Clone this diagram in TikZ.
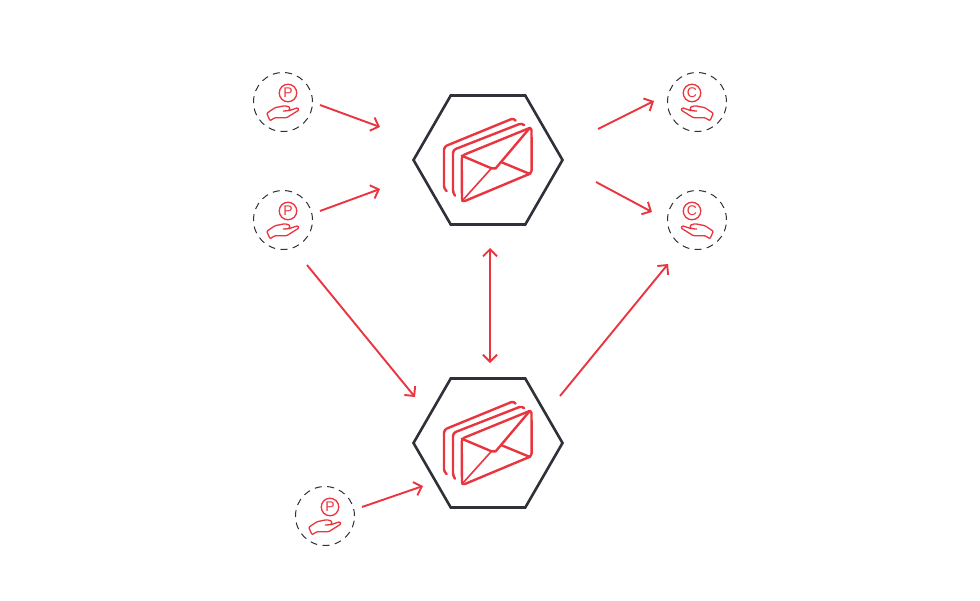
\documentclass[tikz,border=0pt]{standalone}
\usepackage{fontspec}
\setmainfont{Liberation Sans}
\usetikzlibrary{shapes.geometric,arrows.meta}
\definecolor{rd}{HTML}{E9353F}
\definecolor{dk}{HTML}{2E3138}
\tikzset{
  hexnode/.style={regular polygon,regular polygon sides=6,shape border rotate=0,minimum size=149pt,inner sep=0,outer sep=0,draw=dk,line width=2.6pt},
  dashcirc/.style={circle,minimum size=59pt,inner sep=0,outer sep=0,draw=dk,line width=1pt,dash pattern=on 7pt off 5.4pt},
  flow/.style={draw=rd,line width=1.9pt,-{Straight Barb[length=7pt,width=14pt,line width=1.9pt]}},
  flowtwo/.style={draw=rd,line width=1.9pt,{Straight Barb[length=7pt,width=14pt,line width=1.9pt]}-{Straight Barb[length=7pt,width=14pt,line width=1.9pt]}},
  envline/.style={draw=rd,line width=2.4pt,line cap=round,line join=round},
  envthin/.style={draw=rd,line width=1.6pt,line cap=round,line join=round},
  coin/.style={circle,minimum size=17.5pt,inner sep=0,draw=rd,line width=1.3pt,text=rd,font=\fontsize{14}{14}\selectfont},
  handline/.style={draw=rd,line width=1.3pt,line join=round,line cap=round},
  envelope/.pic={
    \draw[envline,rounded corners=3pt] (-41.3,31)--(-44,29)--(-44,-13.3)--(26,-42)--(27.5,-39.5);
    \draw[envline,rounded corners=3pt] (-33,35.7)--(-35,33)--(-35,-10)--(34,-37)--(36,-35);
    \draw[envline,rounded corners=3pt] (-26.3,-4.3)--(43.5,-32.8)--(43.7,13)--(-26,42.2)--cycle;
    \draw[envline] (-26.3,-4.3)--(3.5,8.3)--(7.7,8.3)--(42,-32.3);
    \draw[envthin] (-26,41)--(3.7,8);
    \draw[envline] (13.7,2.3)--(42,14);
  },
  handp/.pic={
    \draw[handline,rounded corners=1pt] (0.3,9)--(6,8.7)--(7,5.3)--(2,3.7)--(-8,5.7)--(-16.3,11.3)--(-13,18.7)--(-8,15.7)--(3.7,15.7)--(16,8)--(14.7,5.7)--(6,8.7);
  },
  handc/.pic={
    \draw[handline,rounded corners=1pt] (-0.3,9)--(-6,8.7)--(-7,5.3)--(-2,3.7)--(8,5.7)--(16.3,11.3)--(13,18.7)--(8,15.7)--(-3.7,15.7)--(-16,8)--(-14.7,5.7)--(-6,8.7);
  }
}
\begin{document}
\begin{tikzpicture}[x=1pt,y=-1pt]
\useasboundingbox (0,0) rectangle (980,600);
\node[hexnode] (hexa) at (488,160) {};
\node[hexnode] (hexb) at (488,443) {};
\pic at (488,160) {envelope};
\pic at (488,443) {envelope};
\node[dashcirc] (pa) at (283,102) {};
\node[dashcirc] (pb) at (283,220) {};
\node[dashcirc] (pc) at (325,516) {};
\node[dashcirc] (ca) at (697,102) {};
\node[dashcirc] (cb) at (697,220) {};
\node[coin] (pacoin) at (288,93) {P};
\node[coin] (pbcoin) at (288,211) {P};
\node[coin] (pccoin) at (330,507) {P};
\node[coin] (cacoin) at (692,93) {C};
\node[coin] (cbcoin) at (692,211) {C};
\pic at (283,102) {handp};
\pic at (283,220) {handp};
\pic at (325,516) {handp};
\pic at (697,102) {handc};
\pic at (697,220) {handc};
\coordinate (a1) at (320,105); \coordinate (a2) at (380,127);
\coordinate (b1) at (320,211); \coordinate (b2) at (380,189);
\coordinate (c1) at (307,265); \coordinate (c2) at (415,397);
\coordinate (d1) at (362,507); \coordinate (d2) at (423,486);
\coordinate (e1) at (490,248); \coordinate (e2) at (490,363);
\coordinate (f1) at (598,129); \coordinate (f2) at (654,101);
\coordinate (g1) at (596,182); \coordinate (g2) at (652,212);
\coordinate (h1) at (560,396); \coordinate (h2) at (668,264);
\draw[flow] (a1)--(a2);
\draw[flow] (b1)--(b2);
\draw[flow] (c1)--(c2);
\draw[flow] (d1)--(d2);
\draw[flowtwo] (e1)--(e2);
\draw[flow] (f1)--(f2);
\draw[flow] (g1)--(g2);
\draw[flow] (h1)--(h2);
\end{tikzpicture}
\end{document}
